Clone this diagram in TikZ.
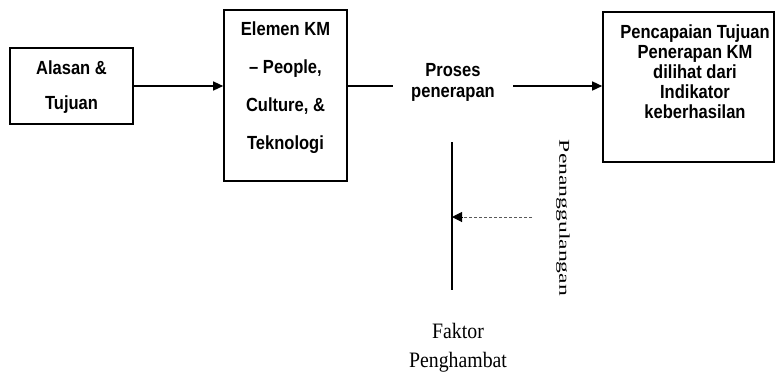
\documentclass[tikz,border=0pt]{standalone}
\usepackage{fontspec}
\setmainfont{Liberation Serif}
\newfontfamily\boxfont{Liberation Sans}[FakeStretch=0.87]
\newfontfamily\serifnarrow{Liberation Serif}[FakeStretch=0.9]
\usetikzlibrary{arrows.meta,calc}
\tikzset{
  box/.style={draw, line width=1.6pt, inner sep=0pt},
  boxtext/.style={font=\boxfont\bfseries\fontsize{19}{#1}\selectfont, align=center, inner sep=0pt},
  conn/.style={line width=1.4pt, -{Triangle[length=10pt,width=9pt]}},
  plain/.style={line width=1.4pt},
  serif/.style={font=\serifnarrow\fontsize{22}{29}\selectfont, align=center, inner sep=0pt},
}
\begin{document}
\begin{tikzpicture}[x=1pt,y=-1pt]
\useasboundingbox (0,0) rectangle (778,376);
% boxes
\node[box, minimum width=123pt, minimum height=76pt] (alasan) at (71.5,86) {};
\node[boxtext=35pt] (alasanT) at (71.5,87.5) {Alasan \&\\Tujuan};
\node[box, minimum width=123pt, minimum height=171pt] (elemen) at (285.5,95.5) {};
\node[boxtext=38pt] (elemenT) at (285.5,88) {Elemen KM\\– People,\\Culture, \&\\Teknologi};
\node[box, minimum width=171pt, minimum height=150pt] (capai) at (688.5,87) {};
\node[boxtext=20pt] (capaiT) at (695,72) {Pencapaian Tujuan\\Penerapan KM\\dilihat dari\\Indikator\\keberhasilan};
\node[boxtext=21pt, inner xsep=18pt] (proses) at (453,82.5) {Proses\\penerapan};
% main flow
\draw[conn] (alasan.east) -- (alasan.east -| elemen.west);
\draw[plain] (alasan.east -| elemen.east) -- (alasan.east -| proses.west);
\draw[conn] (alasan.east -| proses.east) -- (alasan.east -| capai.west);
% hindering factor
\coordinate (vtop) at (452,142);
\coordinate (vbot) at (452,290);
\draw[line width=1.6pt] (vtop) -- (vbot);
\node[serif] (faktor) at (458,347.5) {Faktor\\Penghambat};
\coordinate (dstart) at (532,217);
\coordinate (dend) at (dstart -| vtop);
\draw[line width=1pt, gray!70!black, densely dashed] (dstart) -- ($(dend)+(8,0)$);
\draw[line width=1pt, -{Triangle[length=10pt,width=10pt]}] ($(dend)+(10,0)$) -- (dend);
\node[rotate=-90, inner sep=0pt, font=\serifnarrow\fontsize{15}{16}\selectfont] (tanggul) at (563,218) {\scalebox{1.75}[1]{Penanggulangan}};
\end{tikzpicture}
\end{document}
